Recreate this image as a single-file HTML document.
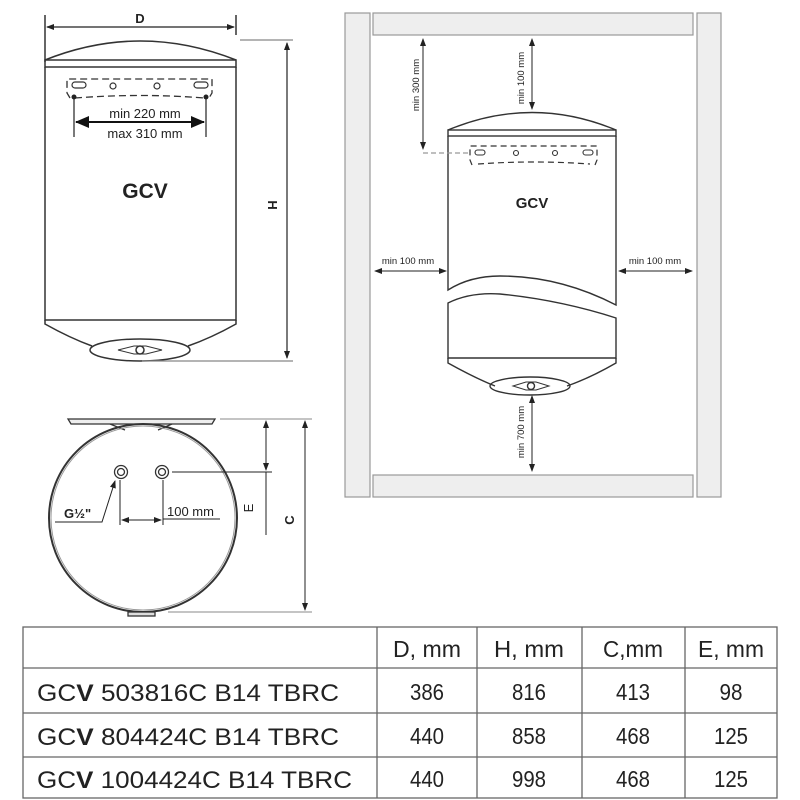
<!DOCTYPE html>
<html><head><meta charset="utf-8"><style>
html,body{margin:0;padding:0;background:#fff;width:800px;height:800px;overflow:hidden}
svg{display:block}
text{font-family:"Liberation Sans",sans-serif;fill:#222}
</style></head><body>
<svg width="800" height="800" viewBox="0 0 800 800">
<defs>
<marker id="a" markerWidth="8" markerHeight="8" refX="7" refY="4" orient="auto-start-reverse" markerUnits="userSpaceOnUse"><path d="M0,1 L8,4 L0,7z" fill="#222"/></marker>
<marker id="b" markerWidth="14" markerHeight="12" refX="13" refY="6" orient="auto-start-reverse" markerUnits="userSpaceOnUse"><path d="M0,0 L14,6 L0,12z" fill="#111"/></marker>
</defs>
<g stroke="#333" fill="none" stroke-width="1.5">
<!-- Left tank -->
<line x1="45" y1="15" x2="45" y2="62"/><line x1="236" y1="15" x2="236" y2="35"/>
<line x1="47" y1="27" x2="234" y2="27" marker-start="url(#a)" marker-end="url(#a)" stroke="#222" stroke-width="1.2"/>
<path d="M45,60 Q140,22 236,60"/>
<rect x="45" y="60" width="191" height="7"/>
<path d="M45,67 V320 H236 V67"/>
<path d="M45,320 V324 Q70,338 92,346 M236,320 V324 Q211,338 188,346"/>
<ellipse cx="140" cy="350" rx="50" ry="11"/>
<path d="M118,350 L134,346 L146,346 L162,350 L146,354 L134,354Z" stroke-width="1"/>
<circle cx="140" cy="350" r="4"/>
<line x1="240" y1="40" x2="293" y2="40" stroke="#888" stroke-width="1.2"/>
<line x1="142" y1="361" x2="293" y2="361" stroke="#888" stroke-width="1.2"/>
<line x1="287" y1="43" x2="287" y2="358" marker-start="url(#a)" marker-end="url(#a)" stroke="#222" stroke-width="1.2"/>
<path d="M70,98 L67,93 V79 H212 V93 L209,98" stroke-dasharray="7,4" stroke-width="1.3"/>
<path d="M75,98 Q140,93 205,98" stroke-dasharray="7,4" stroke-width="1.3"/>
<rect x="72" y="82" width="14" height="6" rx="3" stroke-width="1.2"/><rect x="194" y="82" width="14" height="6" rx="3" stroke-width="1.2"/>
<circle cx="113" cy="86" r="3" stroke-width="1.2"/><circle cx="157" cy="86" r="3" stroke-width="1.2"/>
<line x1="74" y1="97" x2="74" y2="137" stroke="#222" stroke-width="1.2"/><line x1="206" y1="97" x2="206" y2="137" stroke="#222" stroke-width="1.2"/>
<line x1="76" y1="122" x2="204" y2="122" stroke="#111" stroke-width="2" marker-start="url(#b)" marker-end="url(#b)"/>
</g>
<circle cx="74" cy="97" r="2.5" fill="#222"/><circle cx="206" cy="97" r="2.5" fill="#222"/>
<text x="140" y="23" font-size="13" font-weight="bold" text-anchor="middle">D</text>
<text x="145" y="118" font-size="13" text-anchor="middle" fill="#333">min 220 mm</text>
<text x="145" y="138" font-size="13" text-anchor="middle" fill="#333">max 310 mm</text>
<text x="145" y="198" font-size="21" font-weight="bold" text-anchor="middle">GCV</text>
<text font-size="13" font-weight="bold" text-anchor="middle" transform="translate(268,205) rotate(90)">H</text>

<!-- Right: installation -->
<g fill="#eee" stroke="#999" stroke-width="1.2">
<rect x="345" y="13" width="25" height="484"/><rect x="697" y="13" width="24" height="484"/>
<rect x="373" y="13" width="320" height="22"/><rect x="373" y="475" width="320" height="22"/>
</g>
<g stroke="#333" fill="none" stroke-width="1.4">
<path d="M448,130 Q532,95 616,130"/>
<rect x="448" y="130" width="168" height="6"/>
<path d="M448,136 V290 Q470,276 500,276 Q560,276 616,305 V136"/>
<path d="M448,303 Q470,292 500,294 Q560,300 616,318 V358 H448 Z"/>
<path d="M448,358 V363 Q475,378 495,386 M616,358 V363 Q590,378 567,386"/>
<ellipse cx="530" cy="386" rx="40" ry="9"/>
<path d="M513,386 L526,382 L536,382 L549,386 L536,390 L526,390Z" stroke-width="1"/>
<circle cx="531" cy="386" r="3.5"/>
<path d="M472,165 L470,160 V146 H597 V160 L595,165" stroke-dasharray="6,4" stroke-width="1.2"/>
<path d="M478,164 Q533,160 590,164" stroke-dasharray="6,4" stroke-width="1.2"/>
<line x1="423" y1="153" x2="470" y2="153" stroke-dasharray="5,3" stroke="#999" stroke-width="1.2"/>
<rect x="475" y="150" width="10" height="5" rx="2.5" stroke-width="1.1"/><rect x="583" y="150" width="10" height="5" rx="2.5" stroke-width="1.1"/>
<circle cx="516" cy="153" r="2.5" stroke-width="1.1"/><circle cx="555" cy="153" r="2.5" stroke-width="1.1"/>
<g stroke="#222" stroke-width="1">
<line x1="423" y1="39" x2="423" y2="149" marker-start="url(#a)" marker-end="url(#a)"/>
<line x1="532" y1="39" x2="532" y2="109" marker-start="url(#a)" marker-end="url(#a)"/>
<line x1="375" y1="271" x2="446" y2="271" marker-start="url(#a)" marker-end="url(#a)"/>
<line x1="619" y1="271" x2="692" y2="271" marker-start="url(#a)" marker-end="url(#a)"/>
<line x1="532" y1="396" x2="532" y2="471" marker-start="url(#a)" marker-end="url(#a)"/>
</g>
</g>
<text font-size="9.5" text-anchor="middle" transform="translate(419,85) rotate(-90)">min 300 mm</text>
<text font-size="9.5" text-anchor="middle" transform="translate(524,78) rotate(-90)">min 100 mm</text>
<text font-size="9.5" text-anchor="middle" transform="translate(524,432) rotate(-90)">min 700 mm</text>
<text x="408" y="264" font-size="9.5" text-anchor="middle">min 100 mm</text>
<text x="655" y="264" font-size="9.5" text-anchor="middle">min 100 mm</text>
<text x="532" y="208" font-size="15" font-weight="bold" text-anchor="middle">GCV</text>

<!-- Bottom-left: top view -->
<g stroke="#333" fill="none" stroke-width="1.3">
<path d="M68,419 H215 L212,424 H71 Z" fill="#eee"/>
<path d="M110,424 L125,430 M172,424 L158,430"/>
<circle cx="143" cy="518" r="94" stroke-width="2"/>
<circle cx="143" cy="518" r="92" stroke="#999" stroke-width="1"/>
<rect x="128" y="612" width="27" height="4" fill="#ddd"/>
<circle cx="121" cy="472" r="6.5"/><circle cx="121" cy="472" r="3.5"/>
<circle cx="162" cy="472" r="6.5"/><circle cx="162" cy="472" r="3.5"/>
<line x1="120" y1="480" x2="120" y2="525" stroke="#222" stroke-width="1"/>
<line x1="163" y1="480" x2="163" y2="525" stroke="#222" stroke-width="1"/>
<line x1="122" y1="520" x2="161" y2="520" stroke="#222" stroke-width="1" marker-start="url(#a)" marker-end="url(#a)"/>
<line x1="163" y1="519" x2="220" y2="519" stroke="#222" stroke-width="1"/>
<line x1="172" y1="472" x2="272" y2="472" stroke="#222" stroke-width="1"/>
<line x1="220" y1="419" x2="312" y2="419" stroke="#888" stroke-width="1"/>
<line x1="168" y1="612" x2="312" y2="612" stroke="#888" stroke-width="1"/>
<line x1="266" y1="421" x2="266" y2="470" stroke="#222" stroke-width="1" marker-start="url(#a)" marker-end="url(#a)"/>
<line x1="266" y1="472" x2="266" y2="535" stroke="#222" stroke-width="1"/>
<line x1="305" y1="421" x2="305" y2="610" stroke="#222" stroke-width="1" marker-start="url(#a)" marker-end="url(#a)"/>
<path d="M55,522 H102 L115,481" stroke="#222" stroke-width="1" marker-end="url(#a)"/>
</g>
<text x="167" y="516" font-size="13">100 mm</text>
<text x="64" y="518" font-size="13" font-weight="bold">G½"</text>
<text font-size="13" text-anchor="middle" transform="translate(253,508) rotate(-90)">E</text>
<text font-size="13" font-weight="bold" text-anchor="middle" transform="translate(294,520) rotate(-90)">C</text>

<!-- Table -->
<g stroke="#666" stroke-width="1.3" fill="none">
<rect x="23" y="627" width="754" height="171"/>
<line x1="23" y1="668" x2="777" y2="668"/>
<line x1="23" y1="713" x2="777" y2="713"/>
<line x1="23" y1="757" x2="777" y2="757"/>
<line x1="377" y1="627" x2="377" y2="798"/>
<line x1="477" y1="627" x2="477" y2="798"/>
<line x1="582" y1="627" x2="582" y2="798"/>
<line x1="685" y1="627" x2="685" y2="798"/>
</g>
<g font-size="23" text-anchor="middle">
<text x="427" y="657" textLength="68" lengthAdjust="spacingAndGlyphs">D, mm</text>
<text x="529" y="657" textLength="70" lengthAdjust="spacingAndGlyphs">H, mm</text>
<text x="633" y="657" textLength="60" lengthAdjust="spacingAndGlyphs">C,mm</text>
<text x="731" y="657" textLength="66" lengthAdjust="spacingAndGlyphs">E, mm</text>
<text x="427" y="700" textLength="34" lengthAdjust="spacingAndGlyphs">386</text><text x="529" y="700" textLength="34" lengthAdjust="spacingAndGlyphs">816</text><text x="633" y="700" textLength="34" lengthAdjust="spacingAndGlyphs">413</text><text x="731" y="700" textLength="23" lengthAdjust="spacingAndGlyphs">98</text>
<text x="427" y="744" textLength="34" lengthAdjust="spacingAndGlyphs">440</text><text x="529" y="744" textLength="34" lengthAdjust="spacingAndGlyphs">858</text><text x="633" y="744" textLength="34" lengthAdjust="spacingAndGlyphs">468</text><text x="731" y="744" textLength="34" lengthAdjust="spacingAndGlyphs">125</text>
<text x="427" y="787" textLength="34" lengthAdjust="spacingAndGlyphs">440</text><text x="529" y="787" textLength="34" lengthAdjust="spacingAndGlyphs">998</text><text x="633" y="787" textLength="34" lengthAdjust="spacingAndGlyphs">468</text><text x="731" y="787" textLength="34" lengthAdjust="spacingAndGlyphs">125</text>
</g>
<g font-size="24">
<text x="37" y="701" textLength="302" lengthAdjust="spacingAndGlyphs">GC<tspan font-weight="bold">V</tspan> 503816C  B14 TBRC</text>
<text x="37" y="745" textLength="302" lengthAdjust="spacingAndGlyphs">GC<tspan font-weight="bold">V</tspan> 804424C  B14 TBRC</text>
<text x="37" y="788" textLength="315" lengthAdjust="spacingAndGlyphs">GC<tspan font-weight="bold">V</tspan> 1004424C  B14 TBRC</text>
</g>
</svg>
</body></html>
